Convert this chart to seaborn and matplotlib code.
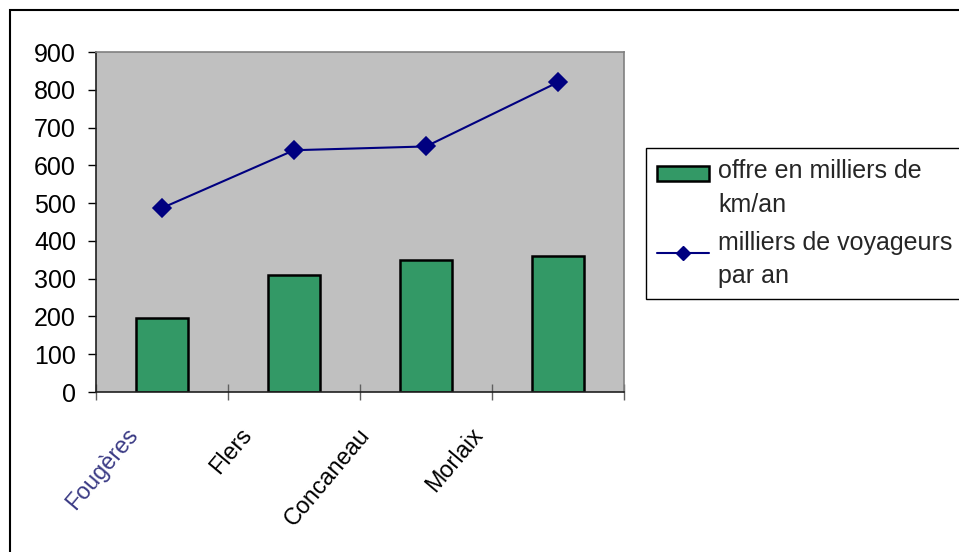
import matplotlib
matplotlib.use("Agg")
import matplotlib.pyplot as plt
import seaborn as sns
import numpy as np
from matplotlib.patches import Patch, Rectangle
from matplotlib.lines import Line2D
from matplotlib.legend_handler import HandlerPatch, HandlerLine2D
from matplotlib.ticker import FixedLocator
import matplotlib.transforms as mtransforms

# ---- data ----
cities = ["Fougères", "Flers", "Concaneau", "Morlaix"]
offre_km = [195, 311, 350, 360]
voyageurs = [487, 640, 650, 820]
series_labels = ["offre en milliers de\nkm/an", "milliers de voyageurs\npar an"]
y_ticks = [0, 100, 200, 300, 400, 500, 600, 700, 800, 900]

BAR = "#339966"
LINE = "#000080"
BG = "#C0C0C0"
FS = 18
FSX = 16.8

sns.set_theme(style="white")
plt.rcParams["font.family"] = ["Liberation Sans", "DejaVu Sans"]

W, H = 959, 552
fig = plt.figure(figsize=(W / 100, H / 100), dpi=100)
ax = fig.add_axes([96 / W, 1 - 392 / H, (624 - 96) / W, (392 - 52) / H])
ax.set_facecolor(BG)

sns.barplot(x=cities, y=offre_km, ax=ax, color=BAR, saturation=1,
            width=0.4, edgecolor="black", linewidth=1.8)
sns.pointplot(x=cities, y=voyageurs, ax=ax, color=LINE, markers="D",
              linestyles="-", errorbar=None, markersize=9, linewidth=1.5)

ax.set_xlim(-0.5, len(cities) - 0.5)
ax.set_ylim(y_ticks[0], y_ticks[-1])
ax.yaxis.set_major_locator(FixedLocator(y_ticks))
ax.set_xlabel("")
ax.set_ylabel("")

# spines
for s in ["top", "right"]:
    ax.spines[s].set_visible(True)
    ax.spines[s].set_color("#808080")
    ax.spines[s].set_linewidth(1.2)
for s in ["left", "bottom"]:
    ax.spines[s].set_color("#202020")
    ax.spines[s].set_linewidth(1.2)

ax.tick_params(axis="y", which="major", direction="out", length=5.8, width=1.0,
               color="black", pad=8.6, labelsize=FS, labelcolor="black", left=True)
ax.xaxis.set_minor_locator(FixedLocator(np.arange(len(cities) + 1) - 0.5))
ax.tick_params(axis="x", which="minor", direction="inout", length=11, width=1.0,
               color="#606060", bottom=True)
ax.tick_params(axis="x", which="major", length=0, pad=28, labelsize=FSX,
               labelcolor="black")

dxs = [-28, -46, -60, -79]
for lab, dx in zip(ax.get_xticklabels(), dxs):
    lab.set_rotation(50)
    lab.set_rotation_mode("anchor")
    lab.set_ha("right")
    lab.set_va("center")
    lab.set_transform(lab.get_transform() +
                      mtransforms.ScaledTranslation(dx / 100, 0, fig.dpi_scale_trans))
ax.get_xticklabels()[0].set_color("#3b3b85")

SHIFT = 11.0


class UpPatch(HandlerPatch):
    def create_artists(self, legend, orig_handle, xdescent, ydescent, width,
                       height, fontsize, trans):
        return super().create_artists(legend, orig_handle, xdescent,
                                      ydescent - SHIFT, width, height, fontsize, trans)


class UpLine(HandlerLine2D):
    def create_artists(self, legend, orig_handle, xdescent, ydescent, width,
                       height, fontsize, trans):
        return super().create_artists(legend, orig_handle, xdescent,
                                      ydescent - SHIFT, width, height, fontsize, trans)


h_bar = Patch(facecolor=BAR, edgecolor="black", linewidth=1.8)
h_line = Line2D([], [], color=LINE, marker="D", markersize=7, linewidth=1.5)
leg = fig.legend([h_bar, h_line], series_labels,
                 loc="upper left",
                 bbox_to_anchor=(645.7 / W, 1 - 148 / H, 0.6, 0.0),
                 mode="expand", fontsize=FS, frameon=True, fancybox=False,
                 edgecolor="black", framealpha=1, numpoints=1,
                 handlelength=2.1, handleheight=0.52, handletextpad=0.34,
                 borderpad=0.45, labelspacing=0.55, borderaxespad=0,
                 handler_map={Patch: UpPatch(), Line2D: UpLine()})
leg.get_frame().set_linewidth(1.0)
for t in leg.get_texts():
    t.set_linespacing(1.5)

# outer chart-area border (top-left corner visible)
fig.patches.append(Rectangle((10 / W, -0.2), 1.5, 1.2 - 10 / H,
                             transform=fig.transFigure, fill=False,
                             edgecolor="black", linewidth=1.5))

fig.savefig("out.png", dpi=100)
